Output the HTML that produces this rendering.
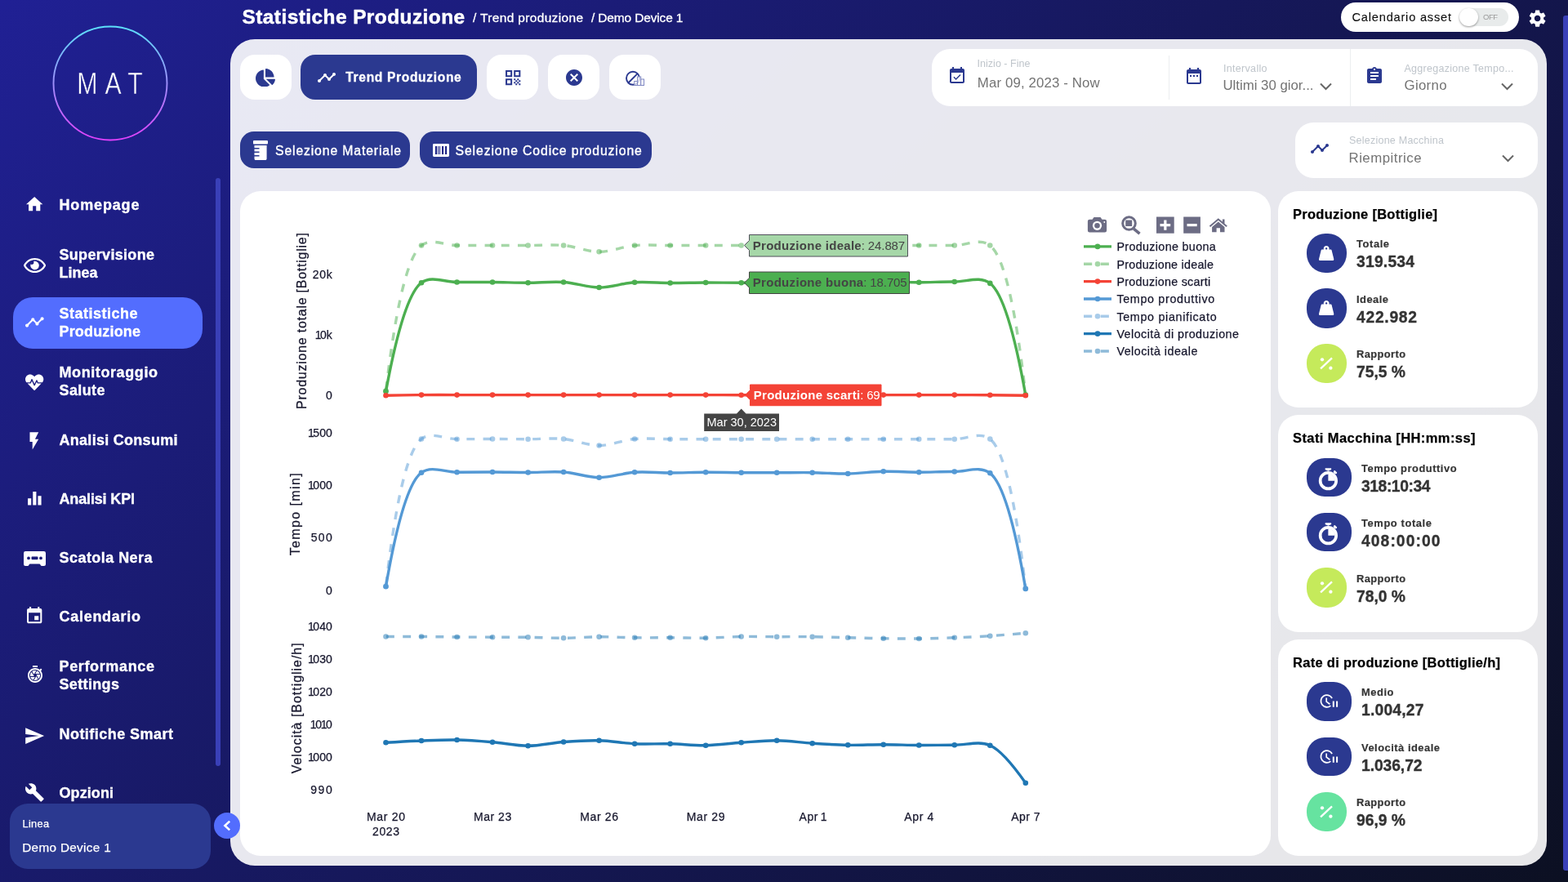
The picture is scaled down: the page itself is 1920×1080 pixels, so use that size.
<!DOCTYPE html>
<html lang="it">
<head>
<meta charset="utf-8">
<title>Statistiche Produzione</title>
<style>
*{box-sizing:border-box;margin:0;padding:0}
html,body{width:1920px;height:1080px;overflow:hidden}
body{position:relative;font-family:"Liberation Sans",sans-serif;color:#fff;
 background:linear-gradient(135deg,#202094 0%,#0c1022 100%)}
nav,header,main,section,article,div,ul,li,a,button,svg,h1,h2,h3,p{position:absolute;display:block}
ul{list-style:none}
a{color:inherit;text-decoration:none}
button{border:0;font:inherit;color:inherit;background:none}
.t{position:absolute;white-space:nowrap;display:block}
h1,h2,h3,p{font-weight:400}
#side{left:0;top:0;width:282px;height:1080px}
#main{left:282px;top:48px;width:1612px;height:1012px;background:rgba(255,255,255,.9);border-radius:30px}
.card{background:#fff;border-radius:25px}
.btnw{background:#fff;border-radius:18px}
.btnd{background:#2b3990;border-radius:18px}
.ic{background:#2b3990;border-radius:50%}
</style>
</head>
<body>
<nav id="side" style="z-index:5;width:296px">
<a style="left:60px;top:27px;width:150px;height:150px"><svg style="left:0;top:0" width="150" height="150" viewBox="0 0 150 150"><defs><linearGradient id="lg" x1="0" y1="0" x2="0" y2="1"><stop offset="0" stop-color="#5ce0fa"/><stop offset="1" stop-color="#e040fb"/></linearGradient></defs><circle cx="75" cy="75" r="69.500" fill="none" stroke="url(#lg)" stroke-width="1.900"/><text transform="translate(0 88) scale(.820 1)" font-family="Liberation Sans, sans-serif" font-size="37" fill="#fff" stroke="#1e1f8b" stroke-width=".600" paint-order="fill stroke" x="41.800 83.400 117.300">MAT</text></svg></a>
<div style="left:264px;top:218px;width:6px;height:720px;background:#3a40b8;border-radius:3px"></div>
<div style="left:16px;top:364px;width:232px;height:63px;background:#536dfe;border-radius:24px"></div>
<ul style="left:0;top:0;width:264px;height:990px">
<li style="left:16px;top:218px;width:232px;height:63px">
<svg style="left:14.4px;top:19.6px" width="24.4" height="24.40" viewBox="0 0 24 24" fill="#fff"><path d="M10 20v-6h4v6h5v-8h3L12 3 2 12h3v8z"/></svg>
<span class="t" style="left:56.5px;top:23px;font-size:18px;line-height:20px;font-weight:700;-webkit-text-stroke:.35px #fff;letter-spacing:0.85px">Homepage</span>
</li>
<li style="left:16px;top:290px;width:232px;height:63px">
<svg style="left:12.9px;top:22.8px" width="27.1" height="24.09" viewBox="0 0 576 512" fill="#fff"><path d="M288 144a110.940 110.940 0 0 0-31.240 5 55.400 55.400 0 0 1 7.240 27 56 56 0 0 1-56 56 55.400 55.400 0 0 1-27-7.240A111.710 111.710 0 1 0 288 144zm284.520 97.400C518.290 135.590 410.930 64 288 64S57.680 135.640 3.480 241.410a32.350 32.350 0 0 0 0 29.190C57.710 376.410 165.070 448 288 448s230.320-71.640 284.520-177.410a32.350 32.350 0 0 0 0-29.190zM288 400c-98.650 0-189.090-55-237.930-144C98.910 167 189.340 112 288 112s189.090 55 237.930 144C477.100 345 386.660 400 288 400z"/></svg>
<span class="t" style="left:56.5px;top:12px;font-size:18px;line-height:20px;font-weight:700;-webkit-text-stroke:.35px #fff;letter-spacing:0.31px">Supervisione</span>
<span class="t" style="left:56.5px;top:34px;font-size:18px;line-height:20px;font-weight:700;-webkit-text-stroke:.35px #fff">Linea</span>
</li>
<li style="left:16px;top:362px;width:232px;height:63px">
<svg style="left:14.4px;top:20.1px" width="24.7" height="24.70" viewBox="0 0 24 24" fill="#fff"><path d="M23 8c0 1.100-.900 2-2 2-.180 0-.350-.020-.510-.070l-3.560 3.550c.050.160.070.340.070.520 0 1.100-.900 2-2 2s-2-.900-2-2c0-.180.020-.360.070-.520l-2.550-2.550c-.160.050-.340.070-.520.070s-.360-.020-.520-.070l-4.550 4.560c.050.160.070.330.070.510 0 1.100-.900 2-2 2s-2-.900-2-2 .900-2 2-2c.180 0 .350.020.510.070l4.560-4.550C8.020 9.360 8 9.180 8 9c0-1.100.900-2 2-2s2 .900 2 2c0 .180-.020.360-.070.520l2.550 2.550c.160-.050.340-.070.520-.070s.360.020.520.070l3.550-3.560C19.020 8.350 19 8.180 19 8c0-1.100.900-2 2-2s2 .900 2 2z"/></svg>
<span class="t" style="left:56.5px;top:12px;font-size:18px;line-height:20px;font-weight:700;-webkit-text-stroke:.35px #fff;letter-spacing:0.5px">Statistiche</span>
<span class="t" style="left:56.5px;top:34px;font-size:18px;line-height:20px;font-weight:700;-webkit-text-stroke:.35px #fff;letter-spacing:0.17px">Produzione</span>
</li>
<li style="left:16px;top:434px;width:232px;height:63px">
<svg style="left:15.4px;top:22.9px" width="22.3" height="22.30" viewBox="0 0 512 512" fill="#fff"><path d="M320.200 243.800l-49.700 99.400c-6 12.100-23.400 11.700-28.900-.600l-56.900-126.300-30 71.700H60.600l182.500 186.500c7.100 7.300 18.600 7.300 25.700 0L451.400 288H342.300l-22.100-44.200zM473.700 73.900l-2.400-2.500c-51.500-52.600-135.800-52.600-187.400 0L256 100l-27.900-28.500c-51.500-52.700-135.900-52.700-187.400 0l-2.400 2.400C-10.400 123.700-12.500 203 31 256h102.400l35.900-86.200c5.400-12.900 23.600-13.200 29.400-.400l58.200 129.300 49-97.900c5.900-11.800 22.700-11.800 28.600 0l27.600 55.200H481c43.500-53 41.400-132.300-7.300-182.100z"/></svg>
<span class="t" style="left:56.5px;top:12px;font-size:18px;line-height:20px;font-weight:700;-webkit-text-stroke:.35px #fff;letter-spacing:0.59px">Monitoraggio</span>
<span class="t" style="left:56.5px;top:34px;font-size:18px;line-height:20px;font-weight:700;-webkit-text-stroke:.35px #fff;letter-spacing:0.39px">Salute</span>
</li>
<li style="left:16px;top:506px;width:232px;height:63px">
<svg style="left:13.4px;top:21.2px" width="25.7" height="25.70" viewBox="0 0 24 24" fill="#fff"><path d="M7 2v11h3v9l7-12h-4l4-8z"/></svg>
<span class="t" style="left:56.5px;top:23px;font-size:18px;line-height:20px;font-weight:700;-webkit-text-stroke:.35px #fff;letter-spacing:0.28px">Analisi Consumi</span>
</li>
<li style="left:16px;top:578px;width:232px;height:63px">
<svg style="left:13.7px;top:19.5px" width="24.7" height="24.70" viewBox="0 0 24 24" fill="#fff"><path d="M10 20h4V4h-4v16zm-6 0h4v-8H4v8zM16 9v11h4V9h-4z"/></svg>
<span class="t" style="left:56.5px;top:23px;font-size:18px;line-height:20px;font-weight:700;-webkit-text-stroke:.35px #fff;letter-spacing:-0.15px">Analisi KPI</span>
</li>
<li style="left:16px;top:650px;width:232px;height:63px">
<svg style="left:13px;top:24.9px" width="27" height="18.00" viewBox="0 0 27 18" fill="#fff"><path fill-rule="evenodd" d="M2.300 0h22.400A2.300 2.300 0 0 1 27 2.300v13.600A2.100 2.100 0 0 1 24.900 18h-2.500a2.100 2.100 0 0 1-1.900-1.300l-.300-.700a1 1 0 0 0-.900-.600H7.700a1 1 0 0 0-.900.600l-.300.700A2.100 2.100 0 0 1 4.600 18H2.100A2.100 2.100 0 0 1 0 15.900V2.300A2.300 2.300 0 0 1 2.300 0zM6 6.500a1.900 1.900 0 1 0 0 3.800 1.900 1.900 0 0 0 0-3.800zm15 0a1.900 1.900 0 1 0 0 3.800 1.900 1.900 0 0 0 0-3.800zM10.400 6.600a.900.900 0 0 0-.900.900v1.800c0 .500.400.900.900.900h6.200c.500 0 .900-.400.900-.900V7.500a.900.900 0 0 0-.900-.900z"/></svg>
<span class="t" style="left:56.5px;top:23px;font-size:18px;line-height:20px;font-weight:700;-webkit-text-stroke:.35px #fff;letter-spacing:0.45px">Scatola Nera</span>
</li>
<li style="left:16px;top:722px;width:232px;height:63px">
<svg style="left:14.2px;top:20px" width="24.4" height="24.40" viewBox="0 0 24 24" fill="#fff"><path d="M17 12h-5v5h5v-5zM16 1v2H8V1H6v2H5c-1.110 0-1.990.900-1.990 2L3 19c0 1.100.890 2 2 2h14c1.100 0 2-.900 2-2V5c0-1.100-.900-2-2-2h-1V1h-2zm3 18H5V8h14v11z"/></svg>
<span class="t" style="left:56.5px;top:23px;font-size:18px;line-height:20px;font-weight:700;-webkit-text-stroke:.35px #fff;letter-spacing:0.72px">Calendario</span>
</li>
<li style="left:16px;top:794px;width:232px;height:63px">
<svg style="left:14.5px;top:20.1px" width="24" height="24.00" viewBox="0 0 24 24" fill="#fff"><path d="M15 1H9v2h6V1zm4.030 6.390l1.420-1.420c-.430-.510-.900-.990-1.410-1.410l-1.420 1.420C16.070 4.740 14.120 4 12 4c-4.970 0-9 4.030-9 9s4.020 9 9 9 9-4.030 9-9c0-2.120-.740-4.070-1.970-5.610zM12 20c-3.870 0-7-3.130-7-7s3.130-7 7-7 7 3.130 7 7-3.130 7-7 7zm-.320-5H6.350c.570 1.620 1.820 2.920 3.410 3.560l-.110-.060 2.030-3.500zm5.970-4c-.570-1.600-1.780-2.890-3.340-3.540L12.260 11h5.390zm-7.040 7.830c.450.110.910.170 1.390.170 1.340 0 2.570-.450 3.570-1.190l-2.110-3.900-2.850 4.920zM7.550 8.990C6.590 10.050 6 11.460 6 13c0 .340.040.670.090 1h4.720L7.550 8.990zm8.790 8.140C17.370 16.060 18 14.600 18 13c0-.340-.040-.670-.090-1h-4.340l2.770 5.130zm-3.010-9.980C12.900 7.060 12.460 7 12 7c-1.400 0-2.690.490-3.710 1.290l2.320 3.560 2.720-4.700z"/></svg>
<span class="t" style="left:56.5px;top:12px;font-size:18px;line-height:20px;font-weight:700;-webkit-text-stroke:.35px #fff;letter-spacing:0.64px">Performance</span>
<span class="t" style="left:56.5px;top:34px;font-size:18px;line-height:20px;font-weight:700;-webkit-text-stroke:.35px #fff;letter-spacing:0.35px">Settings</span>
</li>
<li style="left:16px;top:866px;width:232px;height:63px">
<svg style="left:12.7px;top:21.6px" width="26.2" height="26.20" viewBox="0 0 24 24" fill="#fff"><path d="M2.010 21L23 12 2.010 3 2 10l15 2-15 2z"/></svg>
<span class="t" style="left:56.5px;top:23px;font-size:18px;line-height:20px;font-weight:700;-webkit-text-stroke:.35px #fff;letter-spacing:0.46px">Notifiche Smart</span>
</li>
<li style="left:16px;top:938px;width:232px;height:63px">
<svg style="left:14.1px;top:19.7px" width="24.7" height="24.70" viewBox="0 0 24 24" fill="#fff"><path d="M22.700 19l-9.100-9.100c.900-2.300.400-5-1.500-6.900-2-2-5-2.400-7.400-1.300L9 6 6 9 1.600 4.700C.400 7.100.900 10.100 2.900 12.100c1.900 1.900 4.600 2.400 6.900 1.500l9.100 9.100c.400.400 1 .400 1.400 0l2.300-2.300c.500-.400.500-1.100.100-1.400z"/></svg>
<span class="t" style="left:56.5px;top:23px;font-size:18px;line-height:20px;font-weight:700;-webkit-text-stroke:.35px #fff;letter-spacing:0.08px">Opzioni</span>
</li>
</ul>
<div style="left:12px;top:984px;width:246px;height:80px;background:#2b3990;border-radius:22px"><span class="t" style="left:15.5px;top:16.8px;font-size:12.8px;line-height:15px;-webkit-text-stroke:.250px #fff;letter-spacing:0.3px">Linea</span><span class="t" style="left:15.2px;top:44.8px;font-size:15.3px;line-height:17px;-webkit-text-stroke:.250px #fff;letter-spacing:0.33px">Demo Device 1</span></div>
<button style="left:262px;top:995px;width:32px;height:32px;background:#536dfe;border-radius:50%"><svg style="left:0;top:0" width="32" height="32" viewBox="0 0 32 32"><path d="M19.2 10.6 L13.4 16 L19.2 21.4" fill="none" stroke="#fff" stroke-width="2.6"/></svg></button>
</nav>
<header style="left:282px;top:0;width:1638px;height:48px">
<h1 class="t" style="left:14.5px;top:7px;font-size:24.4px;line-height:27px;font-weight:700;-webkit-text-stroke:.5px #fff;letter-spacing:0.46px">Statistiche Produzione</h1>
<span class="t" style="left:297px;top:13.3px;font-size:15.5px;line-height:17px;-webkit-text-stroke:.3px #fff;letter-spacing:0.34px">/ Trend produzione</span>
<span class="t" style="left:442px;top:13.3px;font-size:15.5px;line-height:17px;-webkit-text-stroke:.3px #fff;letter-spacing:-0.15px">/ Demo Device 1</span>
<div style="left:1360px;top:3px;width:218px;height:36px;background:#fff;border-radius:18px"><span class="t" style="left:13.5px;top:9.8px;font-size:14.6px;line-height:16px;color:#0a0a0a;-webkit-text-stroke:.1px #0a0a0a;letter-spacing:0.8px">Calendario asset</span><div style="left:146px;top:6.6px;width:58.6px;height:22.7px;background:#e8ebeb;border-radius:12px"></div><div style="left:145.4px;top:6.5px;width:22.8px;height:22.8px;background:#fff;border-radius:50%;box-shadow:0 1px 2.500px rgba(0,0,0,.4)"></div><span class="t" style="left:174px;top:11.75px;font-size:9.5px;line-height:11px;color:#9a9a9a;letter-spacing:-0.5px">OFF</span></div>
<svg style="left:1587.9px;top:10.1px" width="25.2" height="25.20" viewBox="0 0 24 24" fill="#fff"><path d="M19.140 12.940c.040-.300.060-.610.060-.940 0-.320-.020-.640-.070-.940l2.030-1.580c.180-.140.230-.410.120-.610l-1.920-3.320c-.120-.220-.370-.290-.590-.220l-2.390.960c-.500-.380-1.030-.700-1.620-.940l-.360-2.540c-.040-.240-.240-.410-.480-.410h-3.840c-.240 0-.430.170-.470.410l-.360 2.540c-.590.240-1.130.570-1.620.940l-2.390-.960c-.220-.080-.470 0-.590.220L2.740 8.870c-.120.210-.080.470.120.610l2.030 1.580c-.050.300-.090.630-.090.940s.020.640.070.940l-2.030 1.580c-.180.140-.230.410-.120.610l1.920 3.320c.120.220.370.290.590.220l2.390-.960c.500.380 1.030.700 1.620.940l.360 2.540c.050.240.240.410.480.410h3.840c.240 0 .440-.170.470-.410l.360-2.540c.590-.240 1.130-.560 1.620-.940l2.390.960c.220.080.470 0 .590-.220l1.920-3.320c.120-.220.070-.470-.120-.610l-2.010-1.580zM12 15.600c-1.980 0-3.600-1.620-3.600-3.600s1.620-3.600 3.600-3.600 3.600 1.620 3.600 3.600-1.620 3.600-3.600 3.600z"/></svg>
<div style="left:1632px;top:19px;width:6px;height:1047px;background:#3a40b8;border-radius:3px 0 0 3px"></div>
</header>
<main id="main">
<button class="btnw" style="left:12px;top:19px;width:63px;height:55px"><svg style="left:19px;top:16.7px" width="24" height="22.59" viewBox="0 0 544 512" fill="#2b3990"><path d="M527.790 288H290.500l158.030 158.030c6.040 6.040 15.980 6.530 22.190.680 38.700-36.460 65.320-85.610 73.130-140.860 1.340-9.460-6.510-17.850-16.060-17.850zm-15.830-64.800C503.720 103.740 408.260 8.280 288.800.040 279.680-.590 272 7.100 272 16.240V240h223.770c9.140 0 16.820-7.680 16.190-16.800zM224 288V50.710c0-9.550-8.390-17.400-17.840-16.060C86.990 51.490-4.100 155.600.140 280.370 4.500 408.510 114.830 513.590 243.030 511.980c50.400-.630 96.970-16.870 135.260-44.030 7.900-5.600 8.420-17.230 1.570-24.080L224 288z"/></svg></button>
<button class="btnd" style="left:86px;top:19px;width:216px;height:55px"><svg style="left:20.25px;top:16.1px" width="24" height="24.00" viewBox="0 0 24 24" fill="#fff"><path d="M23 8c0 1.100-.900 2-2 2-.180 0-.350-.020-.510-.070l-3.560 3.550c.050.160.070.340.070.520 0 1.100-.900 2-2 2s-2-.900-2-2c0-.180.020-.360.070-.520l-2.550-2.550c-.160.050-.340.070-.520.070s-.360-.020-.520-.070l-4.550 4.560c.050.160.070.330.070.510 0 1.100-.900 2-2 2s-2-.900-2-2 .900-2 2-2c.180 0 .350.020.510.070l4.560-4.550C8.020 9.360 8 9.180 8 9c0-1.100.900-2 2-2s2 .900 2 2c0 .180-.020.360-.070.520l2.550 2.550c.160-.050.340-.070.520-.070s.360.020.520.070l3.550-3.560C19.020 8.350 19 8.180 19 8c0-1.100.900-2 2-2s2 .900 2 2z"/></svg><span class="t" style="left:55.3px;top:19px;font-size:15.6px;line-height:17px;font-weight:700;color:#fff;-webkit-text-stroke:.3px #fff;letter-spacing:0.65px">Trend Produzione</span></button>
<button class="btnw" style="left:314px;top:19px;width:63px;height:55px"><svg style="left:19.7px;top:15.9px" width="24.4" height="24.40" viewBox="0 0 24 24" fill="#2b3990"><path d="M3 11h8V3H3v8zm2-6h4v4H5V5zM3 21h8v-8H3v8zm2-6h4v4H5v-4zM13 3v8h8V3h-8zm6 6h-4V5h4v4zM19 19h2v2h-2zM13 13h2v2h-2zM15 15h2v2h-2zM13 17h2v2h-2zM15 19h2v2h-2zM17 17h2v2h-2zM17 13h2v2h-2zM19 15h2v2h-2z"/></svg></button>
<button class="btnw" style="left:389px;top:19px;width:63px;height:55px"><svg style="left:19.9px;top:15.75px" width="24" height="24.00" viewBox="0 0 24 24" fill="#2b3990"><path d="M12 2C6.470 2 2 6.470 2 12s4.470 10 10 10 10-4.470 10-10S17.530 2 12 2zm5 13.590L15.590 17 12 13.410 8.410 17 7 15.590 10.590 12 7 8.410 8.410 7 12 10.590 15.590 7 17 8.410 13.410 12 17 15.590z"/></svg></button>
<button class="btnw" style="left:464px;top:19px;width:63px;height:55px"><svg style="left:19px;top:18px;" width="26" height="21" viewBox="0 0 26 21"><circle cx="10" cy="10.800" r="8" fill="none" stroke="#2b3990" stroke-width="1.900"/><path d="M15.700 5.100 4.300 16.500" stroke="#2b3990" stroke-width="1.900"/><g fill="#fff" fill-opacity=".75" stroke="#7f87c2" stroke-width="1"><rect x="11.700" y="14.500" width="3.800" height="5"/><rect x="15.500" y="9" width="4.200" height="10.500"/><rect x="19.700" y="12" width="3.800" height="7.500"/></g></svg></button>
<section style="left:859px;top:12px;width:742px;height:70px;background:#fff;border-radius:22px"><svg style="left:19px;top:21px" width="24" height="24.00" viewBox="0 0 24 24" fill="#2b3990"><path d="M16.530 11.060L15.470 10l-4.880 4.880-2.120-2.120-1.060 1.060L10.590 17l5.940-5.940zM19 3h-1V1h-2v2H8V1H6v2H5c-1.110 0-1.990.900-1.990 2L3 19c0 1.100.890 2 2 2h14c1.100 0 2-.900 2-2V5c0-1.100-.900-2-2-2zm0 16H5V8h14v11z"/></svg><span class="t" style="left:55.5px;top:11.3px;font-size:12.5px;line-height:14px;color:#bfc5cb;letter-spacing:0.03px">Inizio - Fine</span><span class="t" style="left:55.8px;top:32.3px;font-size:16.8px;line-height:19px;color:#737373;letter-spacing:0.15px">Mar 09, 2023 - Now</span><div style="left:289.5px;top:8px;width:1px;height:54px;background:#eceef0"></div><svg style="left:308.7px;top:21.1px" width="24" height="24.00" viewBox="0 0 24 24" fill="#2b3990"><path d="M9 11H7v2h2v-2zm4 0h-2v2h2v-2zm4 0h-2v2h2v-2zm2-7h-1V2h-2v2H8V2H6v2H5c-1.110 0-1.990.900-1.990 2L3 20c0 1.100.890 2 2 2h14c1.100 0 2-.900 2-2V6c0-1.100-.900-2-2-2zm0 16H5V9h14v11z"/></svg><span class="t" style="left:357px;top:16.5px;font-size:12.5px;line-height:14px;color:#bfc5cb;letter-spacing:0.31px">Intervallo</span><span class="t" style="left:356.5px;top:35px;font-size:16.8px;line-height:19px;color:#737373">Ultimi 30 gior...</span><svg style="left:473px;top:40px;" width="18" height="12" viewBox="0 0 18 12"><path d="M3 2.500 9.500 9 16 2.500" fill="none" stroke="#666" stroke-width="2"/></svg><div style="left:512px;top:0px;width:1px;height:70px;background:#eceef0"></div><svg style="left:530.3px;top:21px" width="24" height="24.00" viewBox="0 0 24 24" fill="#2b3990"><path d="M19 3h-4.180C14.400 1.840 13.300 1 12 1c-1.300 0-2.400.840-2.820 2H5c-1.100 0-2 .900-2 2v14c0 1.100.900 2 2 2h14c1.100 0 2-.900 2-2V5c0-1.100-.900-2-2-2zm-7 0c.550 0 1 .450 1 1s-.450 1-1 1-1-.450-1-1 .450-1 1-1zm2 14H7v-2h7v2zm3-4H7v-2h10v2zm0-4H7V7h10v2z"/></svg><span class="t" style="left:578.5px;top:16.5px;font-size:12.5px;line-height:14px;color:#bfc5cb;letter-spacing:0.28px">Aggregazione Tempo...</span><span class="t" style="left:578.5px;top:35px;font-size:16.8px;line-height:19px;color:#737373;letter-spacing:0.33px">Giorno</span><svg style="left:695px;top:40px;" width="18" height="12" viewBox="0 0 18 12"><path d="M3 2.500 9.500 9 16 2.500" fill="none" stroke="#666" stroke-width="2"/></svg></section>
<button class="btnd" style="left:12px;top:113px;width:208px;height:45px;border-radius:17px"><svg style="left:15.9px;top:10.9px" width="18.1" height="24.13" viewBox="0 0 384 512" fill="#fff"><path d="M32 192h120c4.400 0 8 3.600 8 8v16c0 4.400-3.600 8-8 8H32v64h120c4.400 0 8 3.600 8 8v16c0 4.400-3.600 8-8 8H32v64h120c4.400 0 8 3.600 8 8v16c0 4.400-3.600 8-8 8H32v64c0 17.600 14.400 32 32 32h256c17.600 0 32-14.400 32-32V128H32v64zM360 0H24C10.800 0 0 10.800 0 24v48c0 13.200 10.800 24 24 24h336c13.200 0 24-10.800 24-24V24c0-13.200-10.800-24-24-24z"/></svg><span class="t" style="left:43px;top:14.9px;font-size:15.8px;line-height:17px;color:#fff;-webkit-text-stroke:.35px #fff;letter-spacing:0.85px">Selezione Materiale</span></button>
<button class="btnd" style="left:232px;top:113px;width:284px;height:45px;border-radius:17px"><svg style="left:15.9px;top:15px;" width="20" height="16" viewBox="0 0 20 16"><rect x="0" y="0" width="20" height="16" rx="1.400" fill="#fff"/><path d="M3 3h2v10H3zM6.100 3h1v10h-1zM8.100 3h1v10h-1zM11.100 3h2v10h-2zM15.100 3h2v10h-2z" fill="#131a80"/></svg><span class="t" style="left:43.5px;top:14.9px;font-size:15.8px;line-height:17px;color:#fff;-webkit-text-stroke:.35px #fff;letter-spacing:0.88px">Selezione Codice produzione</span></button>
<section style="left:1304px;top:102px;width:297px;height:68px;background:#fff;border-radius:22px"><svg style="left:17.5px;top:20px" width="24" height="24.00" viewBox="0 0 24 24" fill="#2b3990"><path d="M23 8c0 1.100-.900 2-2 2-.180 0-.350-.020-.510-.070l-3.560 3.550c.050.160.070.340.070.520 0 1.100-.900 2-2 2s-2-.900-2-2c0-.180.020-.360.070-.520l-2.550-2.550c-.160.050-.340.070-.520.070s-.360-.020-.520-.070l-4.550 4.560c.050.160.070.330.070.510 0 1.100-.900 2-2 2s-2-.900-2-2 .900-2 2-2c.180 0 .350.020.510.070l4.560-4.550C8.020 9.360 8 9.180 8 9c0-1.100.900-2 2-2s2 .900 2 2c0 .180-.020.360-.070.520l2.550 2.550c.160-.050.340-.070.520-.070s.360.020.520.070l3.550-3.560C19.020 8.350 19 8.180 19 8c0-1.100.900-2 2-2s2 .900 2 2z"/></svg><span class="t" style="left:66px;top:15.25px;font-size:12.5px;line-height:14px;color:#bfc5cb;letter-spacing:0.24px">Selezione Macchina</span><span class="t" style="left:65.5px;top:34.25px;font-size:16.8px;line-height:19px;color:#737373;letter-spacing:0.51px">Riempitrice</span><svg style="left:251px;top:38px;" width="18" height="12" viewBox="0 0 18 12"><path d="M3 2.500 9.500 9 16 2.500" fill="none" stroke="#666" stroke-width="2"/></svg></section>
<section class="card" style="left:12px;top:186px;width:1262px;height:814px">
<svg style="left:0;top:0" width="1262" height="814" viewBox="294 234 1262 814" font-family="Liberation Sans, sans-serif" stroke-linecap="butt">
<text x="375" y="393" font-size="16" fill="#16162c" stroke="#16162c" stroke-width=".250" text-anchor="middle" textLength="216" lengthAdjust="spacing" transform="rotate(-90 375 393)">Produzione totale [Bottiglie]</text>
<text x="367.5" y="629.8" font-size="16" fill="#16162c" stroke="#16162c" stroke-width=".250" text-anchor="middle" textLength="101" lengthAdjust="spacing" transform="rotate(-90 367.5 629.8)">Tempo [min]</text>
<text x="368.6" y="867.3" font-size="16" fill="#16162c" stroke="#16162c" stroke-width=".250" text-anchor="middle" textLength="160" lengthAdjust="spacing" transform="rotate(-90 368.6 867.3)">Velocità [Bottiglie/h]</text>
<text x="382.86" y="340.7" dx="0.00 0.71 0.71" font-size="14" fill="#16162c" stroke="#16162c" stroke-width=".250">20k</text>
<text x="385.72" y="414.8" dx="0.00 -1.55 0.10" font-size="14" fill="#16162c" stroke="#16162c" stroke-width=".250">10k</text>
<text x="399.06" y="488.7" dx="0.00" font-size="14" fill="#16162c" stroke="#16162c" stroke-width=".250">0</text>
<text x="377.02" y="534.9" dx="0.00 -1.54 0.11 0.11" font-size="14" fill="#16162c" stroke="#16162c" stroke-width=".250">1500</text>
<text x="377.02" y="598.9" dx="0.00 -1.54 0.11 0.11" font-size="14" fill="#16162c" stroke="#16162c" stroke-width=".250">1000</text>
<text x="380.66" y="662.9" dx="0.00 1.41 1.41" font-size="14" fill="#16162c" stroke="#16162c" stroke-width=".250">500</text>
<text x="399.06" y="728.2" dx="0.00" font-size="14" fill="#16162c" stroke="#16162c" stroke-width=".250">0</text>
<text x="377.02" y="771.7" dx="0.00 -1.54 0.11 0.11" font-size="14" fill="#16162c" stroke="#16162c" stroke-width=".250">1040</text>
<text x="377.02" y="811.7" dx="0.00 -1.54 0.11 0.11" font-size="14" fill="#16162c" stroke="#16162c" stroke-width=".250">1030</text>
<text x="377.02" y="851.7" dx="0.00 -1.54 0.11 0.11" font-size="14" fill="#16162c" stroke="#16162c" stroke-width=".250">1020</text>
<text x="379.72" y="891.7" dx="0.00 -1.34 -1.34 -1.34" font-size="14" fill="#16162c" stroke="#16162c" stroke-width=".250">1010</text>
<text x="377.02" y="931.7" dx="0.00 -1.54 0.11 0.11" font-size="14" fill="#16162c" stroke="#16162c" stroke-width=".250">1000</text>
<text x="380.16" y="971.7" dx="0.00 1.66 1.66" font-size="14" fill="#16162c" stroke="#16162c" stroke-width=".250">990</text>
<text x="449.01" y="1005" dx="0.00 0.68 0.68 0.68 0.68 0.68" font-size="14" fill="#16162c" stroke="#16162c" stroke-width=".250">Mar 20</text>
<text x="579.96" y="1005" dx="0.00 0.52 0.52 0.52 0.52 0.52" font-size="14" fill="#16162c" stroke="#16162c" stroke-width=".250">Mar 23</text>
<text x="710.26" y="1005" dx="0.00 0.62 0.62 0.62 0.62 0.62" font-size="14" fill="#16162c" stroke="#16162c" stroke-width=".250">Mar 26</text>
<text x="840.81" y="1005" dx="0.00 0.62 0.62 0.62 0.62 0.62" font-size="14" fill="#16162c" stroke="#16162c" stroke-width=".250">Mar 29</text>
<text x="978.61" y="1005" dx="0.00 0.55 0.55 0.55 -1.10" font-size="14" fill="#16162c" stroke="#16162c" stroke-width=".250">Apr 1</text>
<text x="1107.17" y="1005" dx="0.00 0.68 0.68 0.68 0.68" font-size="14" fill="#16162c" stroke="#16162c" stroke-width=".250">Apr 4</text>
<text x="1238.22" y="1005" dx="0.00 0.43 0.43 0.43 0.43" font-size="14" fill="#16162c" stroke="#16162c" stroke-width=".250">Apr 7</text>
<text x="455.91" y="1023.2" dx="0.00 0.68 0.68 0.68" font-size="14" fill="#16162c" stroke="#16162c" stroke-width=".250">2023</text>
<g><path d="M472.50,479.30Q494.12,362.35 516.02,346.20C528.23,337.20 545.03,345.62 559.53,345.50C574.04,345.38 588.55,345.38 603.05,345.50C617.56,345.62 632.06,346.20 646.57,346.20C661.07,346.20 675.62,344.54 690.09,345.50C704.63,346.46 719.09,351.95 733.60,352.00C748.10,352.05 762.58,346.71 777.12,345.80C791.59,344.89 806.13,346.47 820.64,346.50C835.14,346.53 849.65,346.05 864.15,346.00C878.66,345.95 893.16,346.20 907.67,346.20C922.18,346.20 936.68,346.03 951.19,346.00C965.69,345.97 980.20,345.83 994.70,346.00C1009.21,346.17 1023.72,347.17 1038.22,347.00C1052.73,346.83 1067.23,345.20 1081.74,345.00C1096.24,344.80 1110.75,345.80 1125.26,345.80C1139.76,345.80 1154.27,344.82 1168.77,345.00C1183.28,345.18 1200.10,337.57 1212.29,346.90Q1234.42,363.84 1255.81,483.70" fill="none" stroke="#4caf50" stroke-width="3.400"/><g fill="#4caf50"><circle cx="472.50" cy="479.30" r="3.300"/><circle cx="516.02" cy="346.20" r="3.300"/><circle cx="559.53" cy="345.50" r="3.300"/><circle cx="603.05" cy="345.50" r="3.300"/><circle cx="646.57" cy="346.20" r="3.300"/><circle cx="690.09" cy="345.50" r="3.300"/><circle cx="733.60" cy="352.00" r="3.300"/><circle cx="777.12" cy="345.80" r="3.300"/><circle cx="820.64" cy="346.50" r="3.300"/><circle cx="864.15" cy="346.00" r="3.300"/><circle cx="907.67" cy="346.20" r="3.300"/><circle cx="951.19" cy="346.00" r="3.300"/><circle cx="994.70" cy="346.00" r="3.300"/><circle cx="1038.22" cy="347.00" r="3.300"/><circle cx="1081.74" cy="345.00" r="3.300"/><circle cx="1125.26" cy="345.80" r="3.300"/><circle cx="1168.77" cy="345.00" r="3.300"/><circle cx="1212.29" cy="346.90" r="3.300"/><circle cx="1255.81" cy="483.70" r="3.300"/></g></g>
<g opacity="0.5"><path d="M472.50,478.50Q491.25,319.94 516.02,300.50C528.09,291.03 545.03,300.50 559.53,300.50C574.04,300.50 588.55,300.50 603.05,300.50C617.56,300.50 632.06,300.50 646.57,300.50C661.07,300.50 675.64,299.22 690.09,300.50C704.65,301.79 719.09,308.28 733.60,308.30C748.11,308.32 762.56,301.90 777.12,300.60C791.57,299.31 806.13,300.52 820.64,300.50C835.14,300.48 849.65,300.50 864.15,300.50C878.66,300.50 893.16,300.50 907.67,300.50C922.18,300.50 936.68,300.50 951.19,300.50C965.69,300.50 980.20,300.50 994.70,300.50C1009.21,300.50 1023.72,300.50 1038.22,300.50C1052.73,300.50 1067.23,300.50 1081.74,300.50C1096.24,300.50 1110.75,300.50 1125.26,300.50C1139.76,300.50 1154.27,300.50 1168.77,300.50C1183.28,300.50 1200.23,290.97 1212.29,300.50Q1237.35,320.29 1255.81,483.20" fill="none" stroke="#4caf50" stroke-width="3.400" stroke-dasharray="9.900,10.300" stroke-dashoffset="18.79"/></g><g opacity="0.5"><g fill="#4caf50"><circle cx="472.50" cy="478.50" r="3.300"/><circle cx="516.02" cy="300.50" r="3.300"/><circle cx="559.53" cy="300.50" r="3.300"/><circle cx="603.05" cy="300.50" r="3.300"/><circle cx="646.57" cy="300.50" r="3.300"/><circle cx="690.09" cy="300.50" r="3.300"/><circle cx="733.60" cy="308.30" r="3.300"/><circle cx="777.12" cy="300.60" r="3.300"/><circle cx="820.64" cy="300.50" r="3.300"/><circle cx="864.15" cy="300.50" r="3.300"/><circle cx="907.67" cy="300.50" r="3.300"/><circle cx="951.19" cy="300.50" r="3.300"/><circle cx="994.70" cy="300.50" r="3.300"/><circle cx="1038.22" cy="300.50" r="3.300"/><circle cx="1081.74" cy="300.50" r="3.300"/><circle cx="1125.26" cy="300.50" r="3.300"/><circle cx="1168.77" cy="300.50" r="3.300"/><circle cx="1212.29" cy="300.50" r="3.300"/><circle cx="1255.81" cy="483.20" r="3.300"/></g></g>
<g><path d="M472.50,484.20Q501.51,483.70 516.02,483.60C530.52,483.50 545.03,483.60 559.53,483.60C574.04,483.60 588.55,483.60 603.05,483.60C617.56,483.60 632.06,483.60 646.57,483.60C661.07,483.60 675.58,483.60 690.09,483.60C704.59,483.60 719.10,483.60 733.60,483.60C748.11,483.60 762.61,483.60 777.12,483.60C791.62,483.60 806.13,483.60 820.64,483.60C835.14,483.60 849.65,483.58 864.15,483.60C878.66,483.62 893.16,483.70 907.67,483.70C922.18,483.70 936.68,483.62 951.19,483.60C965.69,483.58 980.20,483.60 994.70,483.60C1009.21,483.60 1023.72,483.60 1038.22,483.60C1052.73,483.60 1067.23,483.60 1081.74,483.60C1096.24,483.60 1110.75,483.60 1125.26,483.60C1139.76,483.60 1154.27,483.58 1168.77,483.60C1183.28,483.62 1197.78,483.60 1212.29,483.70Q1226.79,483.80 1255.81,484.20" fill="none" stroke="#f44336" stroke-width="3.400"/><g fill="#f44336"><circle cx="472.50" cy="484.20" r="3.300"/><circle cx="516.02" cy="483.60" r="3.300"/><circle cx="559.53" cy="483.60" r="3.300"/><circle cx="603.05" cy="483.60" r="3.300"/><circle cx="646.57" cy="483.60" r="3.300"/><circle cx="690.09" cy="483.60" r="3.300"/><circle cx="733.60" cy="483.60" r="3.300"/><circle cx="777.12" cy="483.60" r="3.300"/><circle cx="820.64" cy="483.60" r="3.300"/><circle cx="864.15" cy="483.60" r="3.300"/><circle cx="907.67" cy="483.70" r="3.300"/><circle cx="951.19" cy="483.60" r="3.300"/><circle cx="994.70" cy="483.60" r="3.300"/><circle cx="1038.22" cy="483.60" r="3.300"/><circle cx="1081.74" cy="483.60" r="3.300"/><circle cx="1125.26" cy="483.60" r="3.300"/><circle cx="1168.77" cy="483.60" r="3.300"/><circle cx="1212.29" cy="483.70" r="3.300"/><circle cx="1255.81" cy="484.20" r="3.300"/></g></g>
<g><path d="M472.50,718.30Q493.69,595.28 516.02,578.70C528.20,569.65 545.03,578.42 559.53,578.30C574.04,578.18 588.55,577.97 603.05,578.00C617.56,578.03 632.06,578.50 646.57,578.50C661.07,578.50 675.62,576.98 690.09,578.00C704.63,579.03 719.09,584.65 733.60,584.70C748.10,584.75 762.57,579.25 777.12,578.30C791.59,577.36 806.13,579.00 820.64,579.00C835.14,579.00 849.65,578.35 864.15,578.30C878.66,578.25 893.16,578.62 907.67,578.70C922.18,578.78 936.68,578.80 951.19,578.80C965.69,578.80 980.20,578.50 994.70,578.70C1009.21,578.90 1023.72,580.23 1038.22,580.00C1052.73,579.77 1067.23,577.60 1081.74,577.30C1096.24,577.00 1110.75,578.17 1125.26,578.20C1139.76,578.23 1154.27,577.32 1168.77,577.50C1183.28,577.68 1200.12,569.91 1212.29,579.30Q1234.74,596.62 1255.81,721.00" fill="none" stroke="#5499d5" stroke-width="3.400"/><g fill="#5499d5"><circle cx="472.50" cy="718.30" r="3.300"/><circle cx="516.02" cy="578.70" r="3.300"/><circle cx="559.53" cy="578.30" r="3.300"/><circle cx="603.05" cy="578.00" r="3.300"/><circle cx="646.57" cy="578.50" r="3.300"/><circle cx="690.09" cy="578.00" r="3.300"/><circle cx="733.60" cy="584.70" r="3.300"/><circle cx="777.12" cy="578.30" r="3.300"/><circle cx="820.64" cy="579.00" r="3.300"/><circle cx="864.15" cy="578.30" r="3.300"/><circle cx="907.67" cy="578.70" r="3.300"/><circle cx="951.19" cy="578.80" r="3.300"/><circle cx="994.70" cy="578.70" r="3.300"/><circle cx="1038.22" cy="580.00" r="3.300"/><circle cx="1081.74" cy="577.30" r="3.300"/><circle cx="1125.26" cy="578.20" r="3.300"/><circle cx="1168.77" cy="577.50" r="3.300"/><circle cx="1212.29" cy="579.30" r="3.300"/><circle cx="1255.81" cy="721.00" r="3.300"/></g></g>
<g opacity="0.5"><path d="M472.50,717.80Q491.11,557.02 516.02,537.50C528.08,528.05 545.03,537.70 559.53,537.70C574.04,537.70 588.55,537.50 603.05,537.50C617.56,537.50 632.06,537.70 646.57,537.70C661.07,537.70 675.64,536.22 690.09,537.50C704.65,538.79 719.10,545.50 733.60,545.50C748.11,545.50 762.55,538.79 777.12,537.50C791.56,536.22 806.13,537.67 820.64,537.70C835.14,537.73 849.65,537.70 864.15,537.70C878.66,537.70 893.16,537.70 907.67,537.70C922.18,537.70 936.68,537.70 951.19,537.70C965.69,537.70 980.20,537.70 994.70,537.70C1009.21,537.70 1023.72,537.70 1038.22,537.70C1052.73,537.70 1067.23,537.70 1081.74,537.70C1096.24,537.70 1110.75,537.70 1125.26,537.70C1139.76,537.70 1154.27,537.72 1168.77,537.70C1183.28,537.68 1200.23,528.09 1212.29,537.60Q1237.36,557.36 1255.81,720.50" fill="none" stroke="#5499d5" stroke-width="3.400" stroke-dasharray="9.900,10.300" stroke-dashoffset="18.53"/></g><g opacity="0.5"><g fill="#5499d5"><circle cx="472.50" cy="717.80" r="3.300"/><circle cx="516.02" cy="537.50" r="3.300"/><circle cx="559.53" cy="537.70" r="3.300"/><circle cx="603.05" cy="537.50" r="3.300"/><circle cx="646.57" cy="537.70" r="3.300"/><circle cx="690.09" cy="537.50" r="3.300"/><circle cx="733.60" cy="545.50" r="3.300"/><circle cx="777.12" cy="537.50" r="3.300"/><circle cx="820.64" cy="537.70" r="3.300"/><circle cx="864.15" cy="537.70" r="3.300"/><circle cx="907.67" cy="537.70" r="3.300"/><circle cx="951.19" cy="537.70" r="3.300"/><circle cx="994.70" cy="537.70" r="3.300"/><circle cx="1038.22" cy="537.70" r="3.300"/><circle cx="1081.74" cy="537.70" r="3.300"/><circle cx="1125.26" cy="537.70" r="3.300"/><circle cx="1168.77" cy="537.70" r="3.300"/><circle cx="1212.29" cy="537.60" r="3.300"/><circle cx="1255.81" cy="720.50" r="3.300"/></g></g>
<g><path d="M472.50,909.30Q501.51,907.55 516.02,907.00C530.52,906.45 545.03,905.72 559.53,906.00C574.05,906.28 588.56,907.49 603.05,908.70C617.57,909.92 632.06,913.33 646.57,913.30C661.08,913.27 675.56,909.58 690.09,908.50C704.57,907.42 719.11,906.44 733.60,906.80C748.12,907.17 762.60,910.03 777.12,910.70C791.61,911.36 806.13,910.47 820.64,910.80C835.15,911.13 849.65,912.95 864.15,912.70C878.67,912.45 893.16,910.28 907.67,909.30C922.17,908.32 936.69,906.65 951.19,906.80C965.70,906.95 980.19,909.28 994.70,910.20C1009.20,911.12 1023.71,912.05 1038.22,912.30C1052.72,912.55 1067.23,911.67 1081.74,911.70C1096.24,911.73 1110.75,912.40 1125.26,912.50C1139.76,912.60 1154.27,912.27 1168.77,912.30C1183.28,912.33 1198.91,906.87 1212.29,912.70Q1228.43,919.74 1255.81,958.70" fill="none" stroke="#1f77b4" stroke-width="3.400"/><g fill="#1f77b4"><circle cx="472.50" cy="909.30" r="3.300"/><circle cx="516.02" cy="907.00" r="3.300"/><circle cx="559.53" cy="906.00" r="3.300"/><circle cx="603.05" cy="908.70" r="3.300"/><circle cx="646.57" cy="913.30" r="3.300"/><circle cx="690.09" cy="908.50" r="3.300"/><circle cx="733.60" cy="906.80" r="3.300"/><circle cx="777.12" cy="910.70" r="3.300"/><circle cx="820.64" cy="910.80" r="3.300"/><circle cx="864.15" cy="912.70" r="3.300"/><circle cx="907.67" cy="909.30" r="3.300"/><circle cx="951.19" cy="906.80" r="3.300"/><circle cx="994.70" cy="910.20" r="3.300"/><circle cx="1038.22" cy="912.30" r="3.300"/><circle cx="1081.74" cy="911.70" r="3.300"/><circle cx="1125.26" cy="912.50" r="3.300"/><circle cx="1168.77" cy="912.30" r="3.300"/><circle cx="1212.29" cy="912.70" r="3.300"/><circle cx="1255.81" cy="958.70" r="3.300"/></g></g>
<g opacity="0.5"><path d="M472.50,779.50Q501.51,779.42 516.02,779.50C530.52,779.58 545.03,779.88 559.53,780.00C574.04,780.12 588.55,780.15 603.05,780.20C617.56,780.25 632.06,780.12 646.57,780.30C661.07,780.48 675.58,781.38 690.09,781.30C704.59,781.22 719.10,779.88 733.60,779.80C748.11,779.72 762.61,780.63 777.12,780.80C791.62,780.97 806.13,780.73 820.64,780.80C835.14,780.87 849.65,781.42 864.15,781.20C878.66,780.98 893.16,779.75 907.67,779.50C922.17,779.25 936.68,779.67 951.19,779.70C965.69,779.73 980.20,779.52 994.70,779.70C1009.21,779.88 1023.72,780.45 1038.22,780.80C1052.73,781.15 1067.23,781.60 1081.74,781.80C1096.24,782.00 1110.75,782.17 1125.26,782.00C1139.76,781.83 1154.27,781.35 1168.77,780.80C1183.28,780.25 1197.79,779.63 1212.29,778.70Q1226.80,777.77 1255.81,775.20" fill="none" stroke="#1f77b4" stroke-width="3.400" stroke-dasharray="9.900,10.300" stroke-dashoffset="19.9"/></g><g opacity="0.5"><g fill="#1f77b4"><circle cx="472.50" cy="779.50" r="3.300"/><circle cx="516.02" cy="779.50" r="3.300"/><circle cx="559.53" cy="780.00" r="3.300"/><circle cx="603.05" cy="780.20" r="3.300"/><circle cx="646.57" cy="780.30" r="3.300"/><circle cx="690.09" cy="781.30" r="3.300"/><circle cx="733.60" cy="779.80" r="3.300"/><circle cx="777.12" cy="780.80" r="3.300"/><circle cx="820.64" cy="780.80" r="3.300"/><circle cx="864.15" cy="781.20" r="3.300"/><circle cx="907.67" cy="779.50" r="3.300"/><circle cx="951.19" cy="779.70" r="3.300"/><circle cx="994.70" cy="779.70" r="3.300"/><circle cx="1038.22" cy="780.80" r="3.300"/><circle cx="1081.74" cy="781.80" r="3.300"/><circle cx="1125.26" cy="782.00" r="3.300"/><circle cx="1168.77" cy="780.80" r="3.300"/><circle cx="1212.29" cy="778.70" r="3.300"/><circle cx="1255.81" cy="775.20" r="3.300"/></g></g>
<g><path d="M1327,301.90H1361" stroke="#4caf50" stroke-width="3.400"/></g><g><circle cx="1344" cy="301.90" r="3.300" fill="#4caf50"/></g>
<text x="1367.4" y="307.2" font-size="14.3" fill="#16162c" stroke="#16162c" stroke-width=".250" textLength="121.3" lengthAdjust="spacing">Produzione buona</text>
<g opacity="0.5"><path d="M1327,323.25H1361" stroke="#4caf50" stroke-width="3.400" stroke-dasharray="10.200,10.500"/></g><g opacity="0.5"><circle cx="1344" cy="323.25" r="3.300" fill="#4caf50"/></g>
<text x="1367.4" y="328.55" font-size="14.3" fill="#16162c" stroke="#16162c" stroke-width=".250" textLength="118.6" lengthAdjust="spacing">Produzione ideale</text>
<g><path d="M1327,344.60H1361" stroke="#f44336" stroke-width="3.400"/></g><g><circle cx="1344" cy="344.60" r="3.300" fill="#f44336"/></g>
<text x="1367.4" y="349.9" font-size="14.3" fill="#16162c" stroke="#16162c" stroke-width=".250" textLength="114.8" lengthAdjust="spacing">Produzione scarti</text>
<g><path d="M1327,365.95H1361" stroke="#5499d5" stroke-width="3.400"/></g><g><circle cx="1344" cy="365.95" r="3.300" fill="#5499d5"/></g>
<text x="1367.4" y="371.25" font-size="14.3" fill="#16162c" stroke="#16162c" stroke-width=".250" textLength="119.8" lengthAdjust="spacing">Tempo produttivo</text>
<g opacity="0.5"><path d="M1327,387.30H1361" stroke="#5499d5" stroke-width="3.400" stroke-dasharray="10.200,10.500"/></g><g opacity="0.5"><circle cx="1344" cy="387.30" r="3.300" fill="#5499d5"/></g>
<text x="1367.4" y="392.6" font-size="14.3" fill="#16162c" stroke="#16162c" stroke-width=".250" textLength="122.2" lengthAdjust="spacing">Tempo pianificato</text>
<g><path d="M1327,408.65H1361" stroke="#1f77b4" stroke-width="3.400"/></g><g><circle cx="1344" cy="408.65" r="3.300" fill="#1f77b4"/></g>
<text x="1367.4" y="413.95" font-size="14.3" fill="#16162c" stroke="#16162c" stroke-width=".250" textLength="149.5" lengthAdjust="spacing">Velocità di produzione</text>
<g opacity="0.5"><path d="M1327,430.00H1361" stroke="#1f77b4" stroke-width="3.400" stroke-dasharray="10.200,10.500"/></g><g opacity="0.5"><circle cx="1344" cy="430.00" r="3.300" fill="#1f77b4"/></g>
<text x="1367.4" y="435.3" font-size="14.3" fill="#16162c" stroke="#16162c" stroke-width=".250" textLength="99" lengthAdjust="spacing">Velocità ideale</text>
<g fill="#6c6c84"><path d="M1339.500,266l-2,2.700h-3.300a2.300,2.300 0 0 0-2.300,2.300v11.200a2.300,2.300 0 0 0 2.300,2.300h18.600a2.300,2.300 0 0 0 2.300-2.300V271a2.300,2.300 0 0 0-2.300-2.300h-3.300l-2-2.700z"/><circle cx="1343.500" cy="276.300" r="5.600" fill="#fff"/><circle cx="1343.500" cy="276.300" r="3.300"/><circle cx="1352.300" cy="272" r="0.900" fill="#fff"/><circle cx="1382.500" cy="273.500" r="7.800" fill="none" stroke="#6c6c84" stroke-width="3"/><path d="M1388.200,280.200l7.300,6" stroke="#6c6c84" stroke-width="3.600" fill="none"/><rect x="1378.200" y="269.500" width="8" height="7.500"/><rect x="1416" y="265.500" width="21.700" height="20.200"/><path d="M1426.850,269.500v12.200M1420.500,275.600h12.700" stroke="#fff" stroke-width="3.200"/><rect x="1449.200" y="265.500" width="20.700" height="20.200"/><path d="M1453.500,275.600h12.200" stroke="#fff" stroke-width="3.200"/><path d="M1491.800,267.200l-11,9.200 1.300,1.500 9.700-8.100 9.700,8.100 1.300-1.500-3.300-2.700v-5.200h-2.600v3.100z"/><path d="M1491.800,271.500l-7.700,6.400v6.300h5.500v-5h4.400v5h5.500v-6.300z"/></g>
<path d="M911.5,300.5L917.5,294.5V287.5H1111.5V314H917.5V306.5Z" fill="#a6d7a8" stroke="#50505a" stroke-width="1"/><text x="921.7" y="305.7" font-size="15" fill="#444" textLength="133" lengthAdjust="spacing" font-weight="700">Produzione ideale</text><text x="1054.7" y="305.7" font-size="15" fill="#444" textLength="53.5" lengthAdjust="spacing">: 24.887</text>
<path d="M911.5,346.2L917.5,340.2V333H1113.5V359.5H917.5V352.2Z" fill="#4caf50" stroke="#444" stroke-width="1"/><text x="921.7" y="351.4" font-size="15" fill="#444" textLength="135.5" lengthAdjust="spacing" font-weight="700">Produzione buona</text><text x="1057.2" y="351.4" font-size="15" fill="#444" textLength="53.5" lengthAdjust="spacing">: 18.705</text>
<path d="M912.5,483.7L918.5,477.7V471H1079V496.7H918.5V489.7Z" fill="#f44336" stroke="#f44336" stroke-width="1"/><text x="922.7" y="489" font-size="15" fill="#fff" textLength="130.5" lengthAdjust="spacing" font-weight="700">Produzione scarti</text><text x="1053.2" y="489" font-size="15" fill="#fff" textLength="24.5" lengthAdjust="spacing">: 69</text>
<path d="M907.700,500.400L902,506.500H862.200V528H954V506.500H913.500Z" fill="#444"/>
<text x="865.5" y="521.8" font-size="14.5" fill="#fff" textLength="85.5" lengthAdjust="spacing">Mar 30, 2023</text>
</svg>
</section>
<section class="card" style="left:1283px;top:186px;width:318px;height:265px;"><h2 class="t" style="left:18px;top:18.7px;font-size:16.5px;line-height:18px;font-weight:700;color:#000;-webkit-text-stroke:.250px #000;letter-spacing:0.27px">Produzione [Bottiglie]</h2><div style="left:35px;top:51.55px;width:49px;height:48.5px;background:#2b3990;border-radius:23px"><svg style="left:15.25px;top:15.05px" width="18.3" height="18.30" viewBox="0 0 512 512" fill="#fff"><path d="M510.280 445.860l-73.030-292.130c-3.800-15.190-16.440-25.720-30.870-25.720h-60.250c3.570-10.050 5.880-20.720 5.880-32 0-53.020-42.980-96-96-96s-96 42.980-96 96c0 11.280 2.300 21.950 5.880 32h-60.250c-14.430 0-27.080 10.540-30.870 25.720L1.720 445.860C-6.610 479.170 16.380 512 48.030 512h415.950c31.640 0 54.630-32.830 46.300-66.140zM256 128c-17.640 0-32-14.360-32-32s14.360-32 32-32 32 14.360 32 32-14.360 32-32 32z"/></svg></div><span class="t" style="left:96px;top:57.2px;font-size:12.9px;line-height:15px;font-weight:700;color:#363636;-webkit-text-stroke:.200px #363636;letter-spacing:0.6px">Totale</span><span class="t" style="left:96px;top:76px;font-size:19.3px;line-height:21px;font-weight:700;color:#333;-webkit-text-stroke:.350px #333;letter-spacing:0.22px">319.534</span><div style="left:35px;top:119.05px;width:49px;height:48.5px;background:#2b3990;border-radius:23px"><svg style="left:15.25px;top:15.05px" width="18.3" height="18.30" viewBox="0 0 512 512" fill="#fff"><path d="M510.280 445.860l-73.030-292.130c-3.800-15.190-16.440-25.720-30.870-25.720h-60.250c3.570-10.050 5.880-20.720 5.880-32 0-53.020-42.980-96-96-96s-96 42.980-96 96c0 11.280 2.300 21.950 5.880 32h-60.250c-14.430 0-27.080 10.540-30.870 25.720L1.720 445.860C-6.610 479.170 16.380 512 48.030 512h415.950c31.640 0 54.630-32.830 46.300-66.140zM256 128c-17.640 0-32-14.360-32-32s14.360-32 32-32 32 14.360 32 32-14.360 32-32 32z"/></svg></div><span class="t" style="left:96px;top:124.7px;font-size:12.9px;line-height:15px;font-weight:700;color:#363636;-webkit-text-stroke:.200px #363636;letter-spacing:0.49px">Ideale</span><span class="t" style="left:96px;top:143.5px;font-size:19.3px;line-height:21px;font-weight:700;color:#333;-webkit-text-stroke:.350px #333;letter-spacing:0.72px">422.982</span><div style="left:35px;top:186.65px;width:49px;height:48.5px;background:#c5ea5b;border-radius:23px"><svg style="left:0;top:0" width="49" height="48.5" viewBox="-24.5 -24.25 49 48.5"><path d="M-7.400 6.100 6.500 -6.900" stroke="#fff" stroke-width="2.300" fill="none"/><circle cx="-5.500" cy="-4.900" r="2.150" fill="#fff"/><circle cx="4.900" cy="5.400" r="2.150" fill="#fff"/></svg></div><span class="t" style="left:96px;top:192.3px;font-size:12.9px;line-height:15px;font-weight:700;color:#363636;-webkit-text-stroke:.200px #363636;letter-spacing:0.39px">Rapporto</span><span class="t" style="left:96px;top:211.1px;font-size:19.3px;line-height:21px;font-weight:700;color:#333;-webkit-text-stroke:.350px #333;letter-spacing:-0.01px">75,5 %</span></section>
<section class="card" style="left:1283px;top:460px;width:318px;height:266px;"><h2 class="t" style="left:18px;top:18.7px;font-size:16.5px;line-height:18px;font-weight:700;color:#000;-webkit-text-stroke:.250px #000;letter-spacing:0.41px">Stati Macchina [HH:mm:ss]</h2><div style="left:35px;top:52.6px;width:55px;height:47.4px;background:#2b3990;border-radius:22px"><svg style="left:0;top:0" width="55" height="47.4" viewBox="-27.5 -23.7 55 47.4" fill="#fff"><circle cx="-1.100" cy="4" r="9.750" fill="none" stroke="#fff" stroke-width="3.700"/><path d="M-1.100 4V-4.300A8.300 8.300 0 0 1 7.200 4Z"/><path d="M-4.400 -11.400h6.600a.500.500 0 0 1 .500.500v.900a.500.500 0 0 1-.300.450L-1.100 -7.900-4.600 -9.550a.500.500 0 0 1-.300-.450v-.900a.500.500 0 0 1 .500-.500z"/><path d="M5.700 -8.300l1.300-.300 2.600 2.500-.300 1.500-2.300.400-1.800-2z"/></svg></div><span class="t" style="left:102px;top:57.7px;font-size:12.9px;line-height:15px;font-weight:700;color:#363636;-webkit-text-stroke:.200px #363636;letter-spacing:0.53px">Tempo produttivo</span><span class="t" style="left:102px;top:76.5px;font-size:19.3px;line-height:21px;font-weight:700;color:#333;-webkit-text-stroke:.350px #333;letter-spacing:-0.43px">318:10:34</span><div style="left:35px;top:120.1px;width:55px;height:47.4px;background:#2b3990;border-radius:22px"><svg style="left:0;top:0" width="55" height="47.4" viewBox="-27.5 -23.7 55 47.4" fill="#fff"><circle cx="-1.100" cy="4" r="9.750" fill="none" stroke="#fff" stroke-width="3.700"/><path d="M-1.100 4V-4.300A8.300 8.300 0 0 1 7.200 4Z"/><path d="M-4.400 -11.400h6.600a.500.500 0 0 1 .500.500v.900a.500.500 0 0 1-.300.450L-1.100 -7.900-4.600 -9.550a.500.500 0 0 1-.300-.450v-.900a.500.500 0 0 1 .500-.500z"/><path d="M5.700 -8.300l1.300-.300 2.600 2.500-.300 1.500-2.300.400-1.800-2z"/></svg></div><span class="t" style="left:102px;top:125.2px;font-size:12.9px;line-height:15px;font-weight:700;color:#363636;-webkit-text-stroke:.200px #363636;letter-spacing:0.61px">Tempo totale</span><span class="t" style="left:102px;top:144px;font-size:19.3px;line-height:21px;font-weight:700;color:#333;-webkit-text-stroke:.350px #333;letter-spacing:1.07px">408:00:00</span><div style="left:35px;top:187.25px;width:49px;height:48.5px;background:#c5ea5b;border-radius:23px"><svg style="left:0;top:0" width="49" height="48.5" viewBox="-24.5 -24.25 49 48.5"><path d="M-7.400 6.100 6.500 -6.900" stroke="#fff" stroke-width="2.300" fill="none"/><circle cx="-5.500" cy="-4.900" r="2.150" fill="#fff"/><circle cx="4.900" cy="5.400" r="2.150" fill="#fff"/></svg></div><span class="t" style="left:96px;top:192.9px;font-size:12.9px;line-height:15px;font-weight:700;color:#363636;-webkit-text-stroke:.200px #363636;letter-spacing:0.39px">Rapporto</span><span class="t" style="left:96px;top:211.7px;font-size:19.3px;line-height:21px;font-weight:700;color:#333;-webkit-text-stroke:.350px #333;letter-spacing:-0.01px">78,0 %</span></section>
<section class="card" style="left:1283px;top:735px;width:318px;height:265px;"><h2 class="t" style="left:18px;top:18.7px;font-size:16.5px;line-height:18px;font-weight:700;color:#000;-webkit-text-stroke:.250px #000;letter-spacing:0.3px">Rate di produzione [Bottiglie/h]</h2><div style="left:35px;top:52.2px;width:55px;height:47.4px;background:#2b3990;border-radius:22px"><svg style="left:0;top:0" width="55" height="47.4" viewBox="-27.5 -23.7 55 47.4" fill="none" stroke="#fff"><path d="M3.600 -3.700A7.300 7.300 0 1 0 1.900 5.400" stroke-width="1.800"/><path d="M-3.300 -4.100V0.400L0.900 3.500" stroke-width="1.700"/><path d="M5.300 -0.200V7M9.600 -0.200V7" stroke-width="2"/></svg></div><span class="t" style="left:102px;top:57.3px;font-size:12.9px;line-height:15px;font-weight:700;color:#363636;-webkit-text-stroke:.200px #363636;letter-spacing:0.56px">Medio</span><span class="t" style="left:102px;top:76.1px;font-size:19.3px;line-height:21px;font-weight:700;color:#333;-webkit-text-stroke:.350px #333;letter-spacing:0.21px">1.004,27</span><div style="left:35px;top:119.7px;width:55px;height:47.4px;background:#2b3990;border-radius:22px"><svg style="left:0;top:0" width="55" height="47.4" viewBox="-27.5 -23.7 55 47.4" fill="none" stroke="#fff"><path d="M3.600 -3.700A7.300 7.300 0 1 0 1.900 5.400" stroke-width="1.800"/><path d="M-3.300 -4.100V0.400L0.900 3.500" stroke-width="1.700"/><path d="M5.300 -0.200V7M9.600 -0.200V7" stroke-width="2"/></svg></div><span class="t" style="left:102px;top:124.8px;font-size:12.9px;line-height:15px;font-weight:700;color:#363636;-webkit-text-stroke:.200px #363636;letter-spacing:0.51px">Velocità ideale</span><span class="t" style="left:102px;top:143.6px;font-size:19.3px;line-height:21px;font-weight:700;color:#333;-webkit-text-stroke:.350px #333;letter-spacing:-0.08px">1.036,72</span><div style="left:35px;top:186.65px;width:49px;height:48.5px;background:#66e3a0;border-radius:23px"><svg style="left:0;top:0" width="49" height="48.5" viewBox="-24.5 -24.25 49 48.5"><path d="M-7.400 6.100 6.500 -6.900" stroke="#fff" stroke-width="2.300" fill="none"/><circle cx="-5.500" cy="-4.900" r="2.150" fill="#fff"/><circle cx="4.900" cy="5.400" r="2.150" fill="#fff"/></svg></div><span class="t" style="left:96px;top:192.3px;font-size:12.9px;line-height:15px;font-weight:700;color:#363636;-webkit-text-stroke:.200px #363636;letter-spacing:0.39px">Rapporto</span><span class="t" style="left:96px;top:211.1px;font-size:19.3px;line-height:21px;font-weight:700;color:#333;-webkit-text-stroke:.350px #333;letter-spacing:-0.01px">96,9 %</span></section>
</main>
</body>
</html>
